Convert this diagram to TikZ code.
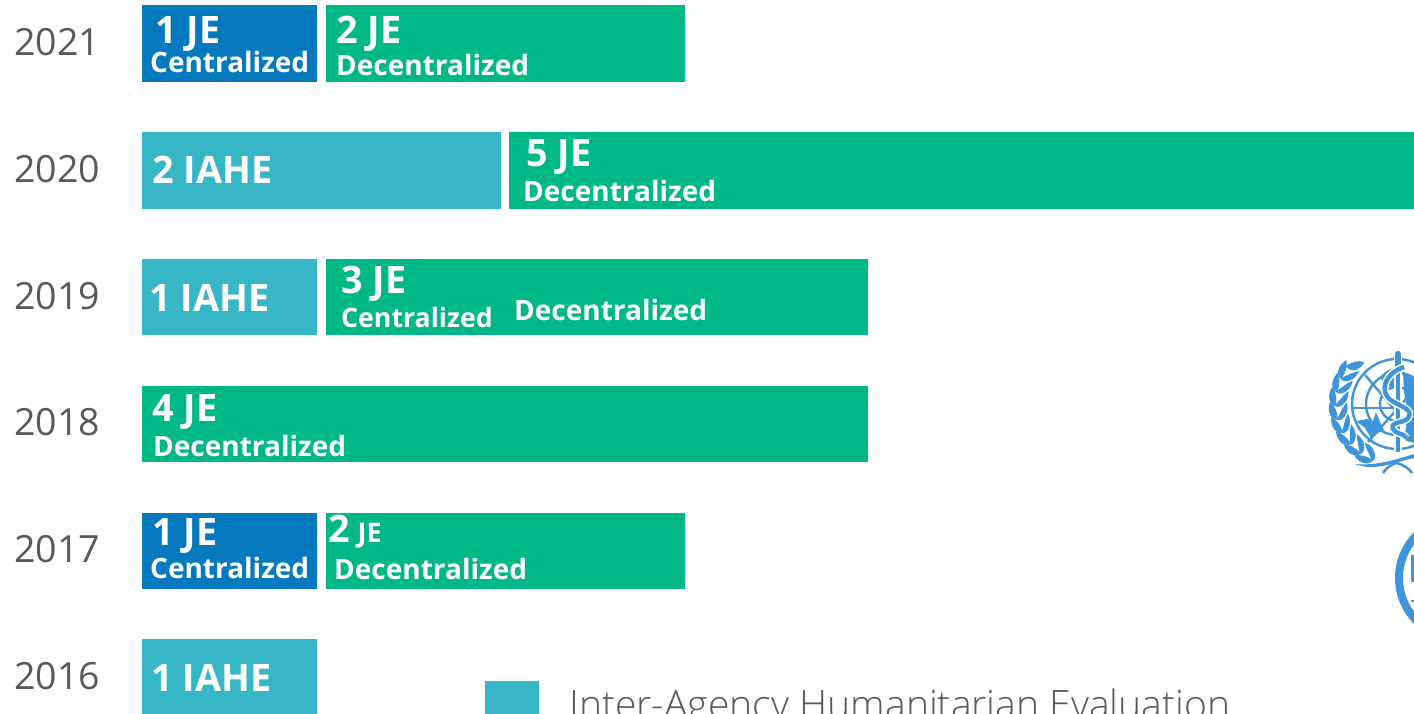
\documentclass[tikz,border=0pt]{standalone}
\usepackage{fontspec}
\setmainfont{Open Sans}
\newfontfamily\oslight{Open Sans Light}
\definecolor{jeblue}{HTML}{0579BD}
\definecolor{jegreen}{HTML}{00B886}
\definecolor{iahe}{HTML}{37B6C6}
\definecolor{greytxt}{HTML}{595959}
\definecolor{logoblue}{HTML}{3F95DC}
\tikzset{
 big/.style={anchor=base west,inner sep=0,text=white,font=\fontsize{37.8}{38}\selectfont\bfseries},
 small/.style={anchor=base west,inner sep=0,text=white,font=\fontsize{28}{28}\selectfont\bfseries},
 smaller/.style={anchor=base west,inner sep=0,text=white,font=\fontsize{26.7}{27}\selectfont\bfseries},
 yearlabel/.style={anchor=base west,inner sep=0,text=greytxt,font=\fontsize{37.5}{38}\selectfont},
 logoline/.style={draw=logoblue,line width=2.4,fill=none},
 logofill/.style={fill=logoblue,draw=none}
}
\newcommand{\barat}[6]{\fill[#6] (#2,#3) rectangle (#4,#5) node[pos=.5,inner sep=0] (#1) {};}
\begin{document}
\begin{tikzpicture}[x=1pt,y=-1pt]
\useasboundingbox (0,0) rectangle (1414,714);
\clip (0,0) rectangle (1414,714);
\fill[white] (0,0) rectangle (1414,714);
% bars
\barat{a1}{142}{5}{317.2}{82}{jeblue}
\barat{a2}{326}{5}{685}{82}{jegreen}
\barat{b1}{142}{132}{501}{209}{iahe}
\barat{b2}{509}{132}{1414}{209}{jegreen}
\barat{c1}{142}{259}{317.2}{335}{iahe}
\barat{c2}{326}{259}{868}{335}{jegreen}
\barat{d1}{142}{385.5}{868}{462}{jegreen}
\barat{e1}{142}{512.5}{317.2}{589}{jeblue}
\barat{e2}{326}{512.5}{685}{589}{jegreen}
\barat{f1}{142}{639}{317.2}{720}{iahe}
\barat{g1}{485}{681}{539}{720}{iahe}
% years
\node[yearlabel] (y21) at (14,55.5) {2021};
\node[yearlabel] (y20) at (14,182.5) {2020};
\node[yearlabel] (y19) at (14,309.5) {2019};
\node[yearlabel] (y18) at (14,435.5) {2018};
\node[yearlabel] (y17) at (14,562.5) {2017};
\node[yearlabel] (y16) at (14,689.5) {2016};
% bar labels
\node[big] (t1) at (155,43.5) {1 JE};
\node[small] (t2) at (150,73) {Centralized};
\node[big] (t3) at (336,43.5) {2 JE};
\node[small] (t4) at (336,76) {Decentralized};
\node[big] (t5) at (152,184) {2 IAHE};
\node[big] (t6) at (526,167) {5 JE};
\node[small] (t7) at (523,202) {Decentralized};
\node[big] (t8) at (149,311) {1 IAHE};
\node[big] (t9) at (341,293) {3 JE};
\node[smaller] (t10) at (341,327) {Centralized};
\node[small] (t11) at (514,320) {Decentralized};
\node[big] (t12) at (152,421) {4 JE};
\node[small] (t13) at (153,456) {Decentralized};
\node[big] (t14) at (152,545) {1 JE};
\node[small] (t15) at (150,578) {Centralized};
\node[big] (t16) at (328,542) {2 \hspace{-2pt}\fontsize{27}{27}\selectfont JE};
\node[small] (t17) at (334,579) {Decentralized};
\node[big] (t18) at (151,691) {1 IAHE};
\node[anchor=base west,inner sep=0,text=greytxt,font=\fontsize{39.1}{39}\selectfont\oslight] (t19) at (569,718) {Inter-Agency Humanitarian Evaluation};
% emblem: rings and grid
\draw[logoline] (1397,404) circle (45);
\draw[logoline] (1397,404) circle (31);
\draw[logoline] (1397,404) circle (17);
\draw[logoline] (1352,408) -- (1414,408);
\draw[logoline] (1365,375) -- (1414,432);
\draw[logoline] (1368,442) -- (1414,390);
% continents
\fill[logofill] (1356,421) -- (1368,419) -- (1372,424) -- (1376,412) -- (1380,422) -- (1384,430) -- (1376,434) -- (1371,438) -- (1365,428) -- cycle;
\fill[logofill] (1380,377) .. controls (1386,370) and (1392,368) .. (1397,368) -- (1397,388) -- (1386,386) -- cycle;
\fill[logofill] (1403,372) .. controls (1410,374) and (1414,376) .. (1414,378) -- (1414,443) -- (1404,440) -- (1408,415) -- (1404,392) -- cycle;
% staff and serpent
\draw[white,line width=8] (1398,355) -- (1398,452);
\draw[logoblue,line width=6.5,line cap=round] (1398,354) -- (1398,368);
\draw[logoblue,line width=3.5] (1398,360) -- (1398,452);
\draw[white,line width=7.5] (1404,367) .. controls (1385,373) and (1378,392) .. (1392,401) .. controls (1402,407) and (1414,410) .. (1408,418) .. controls (1403,424) and (1390,421) .. (1393,429) .. controls (1395,434) and (1404,433) .. (1407,438);
\draw[logoblue,line width=4.5] (1404,367) .. controls (1385,373) and (1378,392) .. (1392,401) .. controls (1402,407) and (1414,410) .. (1408,418) .. controls (1403,424) and (1390,421) .. (1393,429) .. controls (1395,434) and (1404,433) .. (1407,438);
% laurel
\foreach \a in {112,125,138,151,164,177,190,203}{
  \fill[logofill,shift={(1397,404)}] (\a:59) .. controls (\a+3:50) and (\a+10:49) .. (\a+18:50) .. controls (\a+14:54) and (\a+7:57) .. (\a+3:61) -- cycle;
  \fill[logofill,shift={(1397,404)}] (\a:59) .. controls (\a+2:68) and (\a+9:71) .. (\a+18:67) .. controls (\a+14:62) and (\a+7:60) .. (\a+3:61) -- cycle;
}
\fill[logofill,shift={(1397,404)}] (216:59) .. controls (218:52) and (224:51) .. (232:53) .. controls (229:59) and (222:62) .. (216:64) -- cycle;
% ribbon
\fill[logofill] (1355,464) .. controls (1375,472) and (1395,462) .. (1414,458) -- (1414,454) .. controls (1395,460) and (1375,466) .. (1355,464) -- cycle;
\draw[logoblue,line width=2.5] (1383,473) .. controls (1387,467) and (1392,464) .. (1397,463) .. controls (1403,465) and (1409,468) .. (1412,473);
% second logo
\draw[logoblue,line width=8] (1460,578) circle (61);
\fill[logofill] (1411,555) rectangle (1414,582);
\fill[logofill] (1411,600) rectangle (1414,602);
\end{tikzpicture}
\end{document}
